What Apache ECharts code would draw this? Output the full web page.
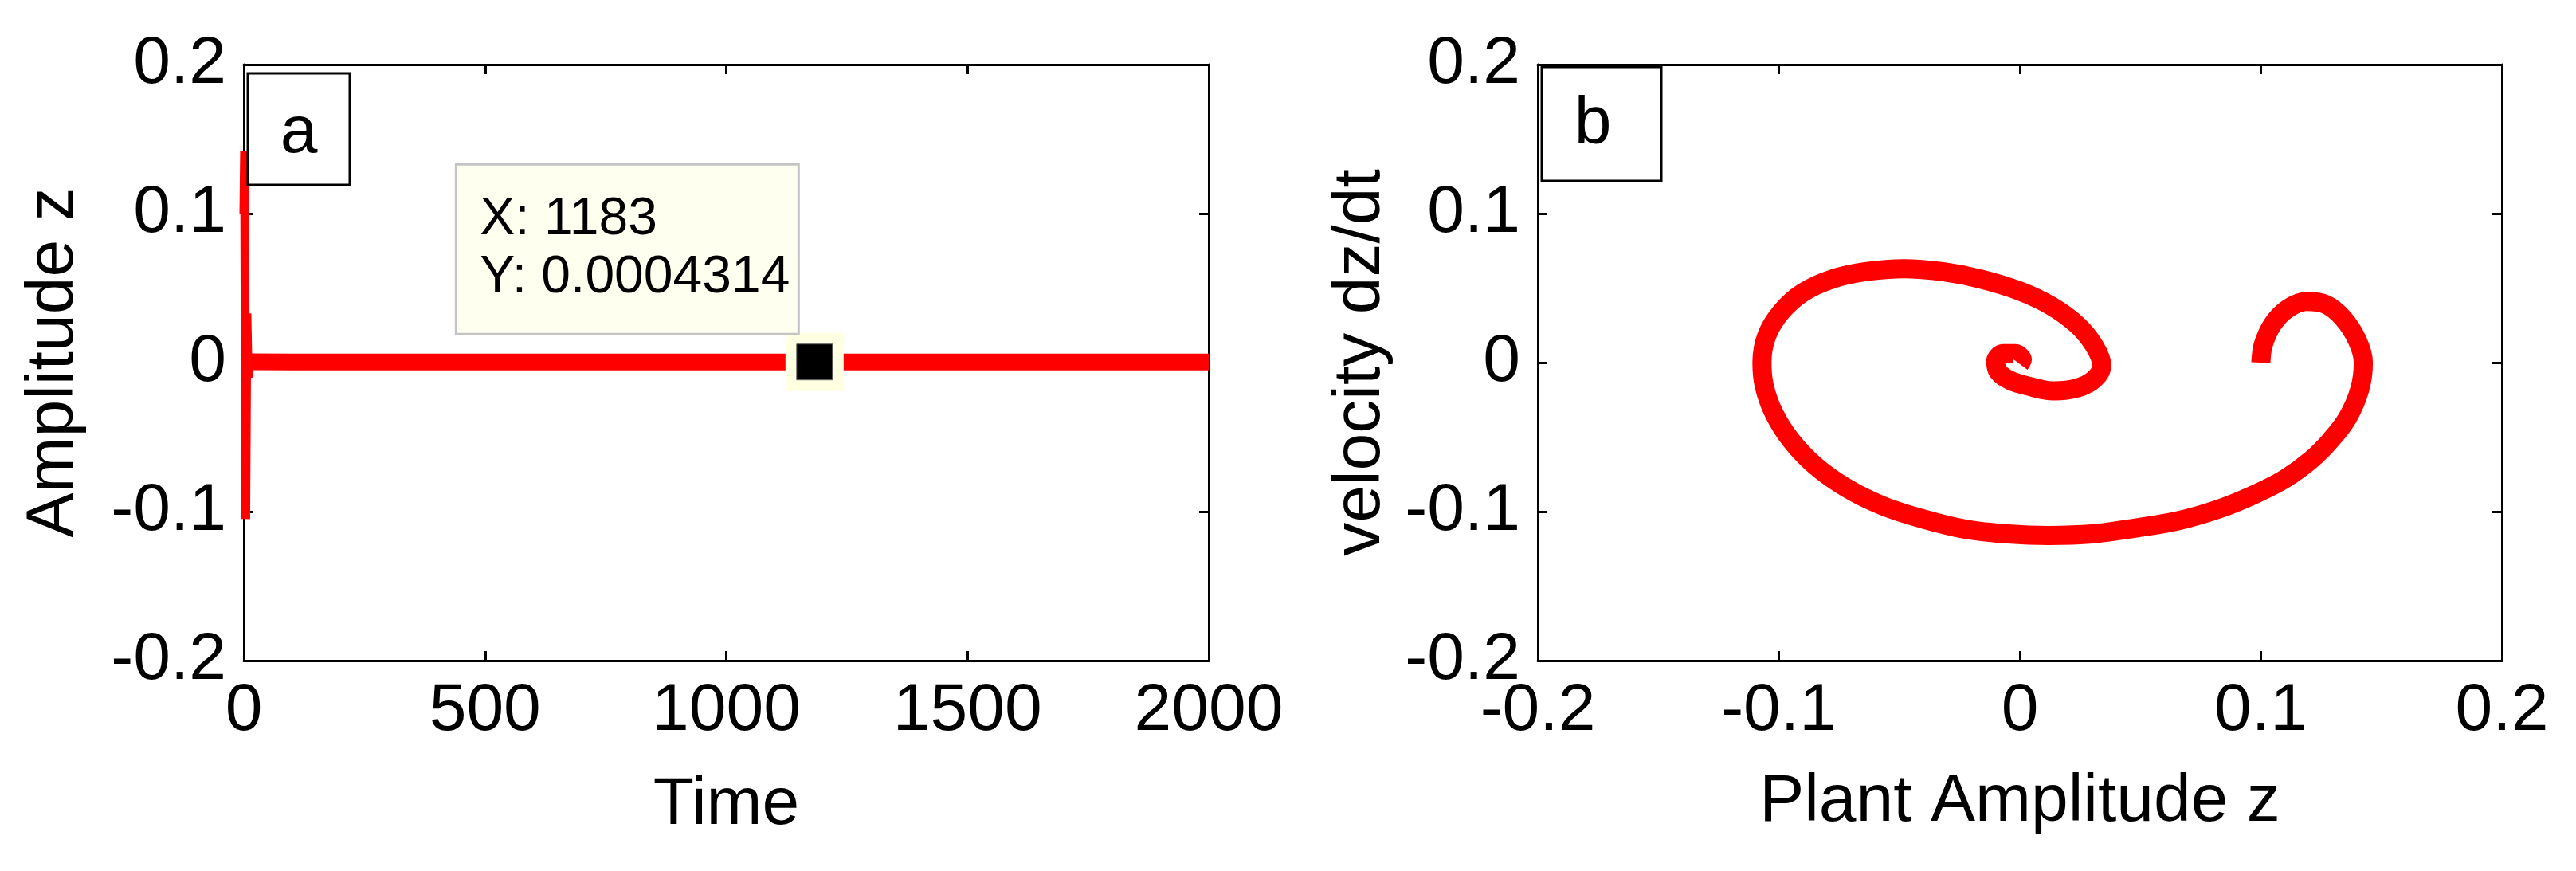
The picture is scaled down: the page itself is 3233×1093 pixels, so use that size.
<!DOCTYPE html>
<html><head><meta charset="utf-8">
<script src="https://cdn.jsdelivr.net/npm/echarts@6/dist/echarts.min.js"></script>
<style>html,body{margin:0;padding:0;background:#fff}#c{width:3233px;height:1093px}</style>
</head><body><div id="c"></div>
<script>
// ---- data ----
const timeTicks = [0, 500, 1000, 1500, 2000];
const ampTicks = [-0.2, -0.1, 0, 0.1, 0.2];
// panel (a): early transient of amplitude z
const transientTime = [0, 1.5, 4, 6.5, 9, 11.5, 14, 17];
const transientAmp  = [0.100, 0.142, -0.105, 0.033, -0.010, 0.003, -0.001, 0.000];
// panel (a): settled response (thick band about zero)
const steadyTime = [15, 100, 200, 300, 400, 500, 600, 700, 800, 900, 1000, 1100, 1183, 1300, 1400, 1500, 1600, 1700, 1800, 1900, 2000];
const steadyAmp  = [0.0005, 0.0004, 0.0004, 0.0004, 0.0004, 0.0004, 0.0004, 0.0004, 0.0004, 0.0004, 0.0004, 0.0004, 0.0004314, 0.0004, 0.0004, 0.0004, 0.0004, 0.0004, 0.0004, 0.0004, 0.0004];
// data tip in panel (a)
const tipX = 1183;
const tipY = 0.0004314;
// panel (b): phase portrait
const phaseZ = [0.100, 0.101, 0.105, 0.111, 0.119, 0.127, 0.134, 0.140, 0.1425, 0.141, 0.136, 0.129, 0.121, 0.110, 0.098, 0.083, 0.066, 0.048, 0.030, 0.012, -0.005, -0.022, -0.040, -0.057, -0.072, -0.085, -0.095, -0.102, -0.106, -0.107, -0.105, -0.099, -0.090, -0.078, -0.064, -0.048, -0.032, -0.016, 0.000, 0.013, 0.024, 0.031, 0.034, 0.031, 0.024, 0.014, 0.004, -0.004, -0.009, -0.010, -0.007, -0.002, 0.001, 0.000];
const phaseV = [0.000, 0.012, 0.026, 0.036, 0.041, 0.039, 0.030, 0.015, 0.000, -0.018, -0.037, -0.052, -0.065, -0.078, -0.088, -0.098, -0.106, -0.111, -0.115, -0.116, -0.115, -0.112, -0.105, -0.096, -0.084, -0.069, -0.052, -0.034, -0.016, 0.000, 0.018, 0.034, 0.047, 0.056, 0.061, 0.063, 0.061, 0.056, 0.048, 0.038, 0.025, 0.011, -0.002, -0.011, -0.017, -0.019, -0.016, -0.012, -0.006, 0.001, 0.006, 0.006, 0.002, -0.001];
const panelLabels = ['a', 'b'];
const axisNames = { aX: 'Time', aY: 'Amplitude z', bX: 'Plant Amplitude z', bY: 'velocity dz/dt' };

// ---- chart ----
const FONT = '"Liberation Sans", Arial, sans-serif';
const zip = (a, b) => a.map((v, i) => [v, b[i]]);

function ax(extra) {
  return Object.assign({
    type: 'value',
    axisLine: { show: true, onZero: false, lineStyle: { color: '#000', width: 3 } },
    axisTick: { show: true, inside: true, length: 12, lineStyle: { color: '#000', width: 3 } },
    splitLine: { show: false },
    axisLabel: { show: true, color: '#000', fontSize: 84, fontFamily: FONT, margin: 22, formatter: v => String(+v.toFixed(6)) },
    nameTextStyle: { color: '#000', fontSize: 84, fontFamily: FONT },
    nameLocation: 'middle'
  }, extra);
}
const tMin = timeTicks[0], tMax = timeTicks[timeTicks.length - 1], tInt = timeTicks[1] - timeTicks[0];
const aMin = ampTicks[0], aMax = ampTicks[ampTicks.length - 1], aInt = 0.1;
const noLabel = { show: false };

const chart = echarts.init(document.getElementById('c'), null, { renderer: 'canvas' });
chart.setOption({
  animation: false,
  backgroundColor: '#fff',
  grid: [
    { left: 306, top: 81, width: 1211, height: 748, outerBoundsMode: 'none' },
    { left: 1930, top: 81, width: 1210, height: 748, outerBoundsMode: 'none' }
  ],
  xAxis: [
    ax({ gridIndex: 0, position: 'bottom', min: tMin, max: tMax, interval: tInt, name: axisNames.aX, nameGap: 140 }),
    ax({ gridIndex: 0, position: 'top', min: tMin, max: tMax, interval: tInt, axisLabel: noLabel }),
    ax({ gridIndex: 1, position: 'bottom', min: aMin, max: aMax, interval: aInt, name: axisNames.bX, nameGap: 136 }),
    ax({ gridIndex: 1, position: 'top', min: aMin, max: aMax, interval: aInt, axisLabel: noLabel })
  ],
  yAxis: [
    ax({ gridIndex: 0, position: 'left', min: aMin, max: aMax, interval: aInt, name: axisNames.aY, nameGap: 196 }),
    ax({ gridIndex: 0, position: 'right', min: aMin, max: aMax, interval: aInt, axisLabel: noLabel }),
    ax({ gridIndex: 1, position: 'left', min: aMin, max: aMax, interval: aInt, name: axisNames.bY, nameGap: 180 }),
    ax({ gridIndex: 1, position: 'right', min: aMin, max: aMax, interval: aInt, axisLabel: noLabel })
  ],
  series: [
    { type: 'line', z: 2, xAxisIndex: 0, yAxisIndex: 0, data: zip(steadyTime, steadyAmp), showSymbol: false, silent: true,
      lineStyle: { color: '#ff0000', width: 21, join: 'bevel', cap: 'butt' } },
    { type: 'line', z: 2, xAxisIndex: 0, yAxisIndex: 0, data: zip(transientTime, transientAmp), showSymbol: false, silent: true,
      lineStyle: { color: '#ff0000', width: 11, join: 'bevel', cap: 'butt' } },
    { type: 'scatter', z: 10, xAxisIndex: 0, yAxisIndex: 0, data: [[tipX, tipY]], symbol: 'rect', symbolSize: 73, silent: true,
      itemStyle: { color: '#ffffe1', opacity: 1 } },
    { type: 'scatter', z: 11, xAxisIndex: 0, yAxisIndex: 0, data: [[tipX, tipY]], symbol: 'rect', symbolSize: 45, silent: true,
      itemStyle: { color: '#000', borderColor: '#666', borderWidth: 1, opacity: 1 } },
    { type: 'line', z: 2, xAxisIndex: 2, yAxisIndex: 2, data: zip(phaseZ, phaseV), showSymbol: false, silent: true, smooth: 0.35,
      lineStyle: { color: '#ff0000', width: 24, join: 'round', cap: 'butt' } }
  ]
});

// annotations: panel labels and data tip
const tp = chart.convertToPixel({ xAxisIndex: 0, yAxisIndex: 0 }, [tipX, tipY]);
const TXT = (x, y, text, size, extra) => ({ type: 'text', x: x, y: y, z: 100,
  style: Object.assign({ text: text, fill: '#000', font: size + 'px ' + FONT, align: 'left', verticalAlign: 'middle' }, extra || {}) });
chart.setOption({
  graphic: [
    { type: 'rect', z: 90, shape: { x: 311, y: 92, width: 128, height: 140 }, style: { fill: '#fff', stroke: '#000', lineWidth: 3 } },
    TXT(375, 168, panelLabels[0], 84, { align: 'center' }),
    { type: 'rect', z: 90, shape: { x: 1935, y: 84, width: 150, height: 143 }, style: { fill: '#fff', stroke: '#000', lineWidth: 3 } },
    TXT(1999, 157, panelLabels[1], 84, { align: 'center' }),
    { type: 'rect', z: 90, shape: { x: tp[0] - 450, y: tp[1] - 248, width: 430, height: 213 }, style: { fill: '#fffff0', stroke: '#c4c4c4', lineWidth: 3 } },
    TXT(tp[0] - 420, tp[1] - 178, 'X: ' + tipX, 66),
    TXT(tp[0] - 420, tp[1] - 105, 'Y: ' + tipY, 66)
  ]
});
</script></body></html>
